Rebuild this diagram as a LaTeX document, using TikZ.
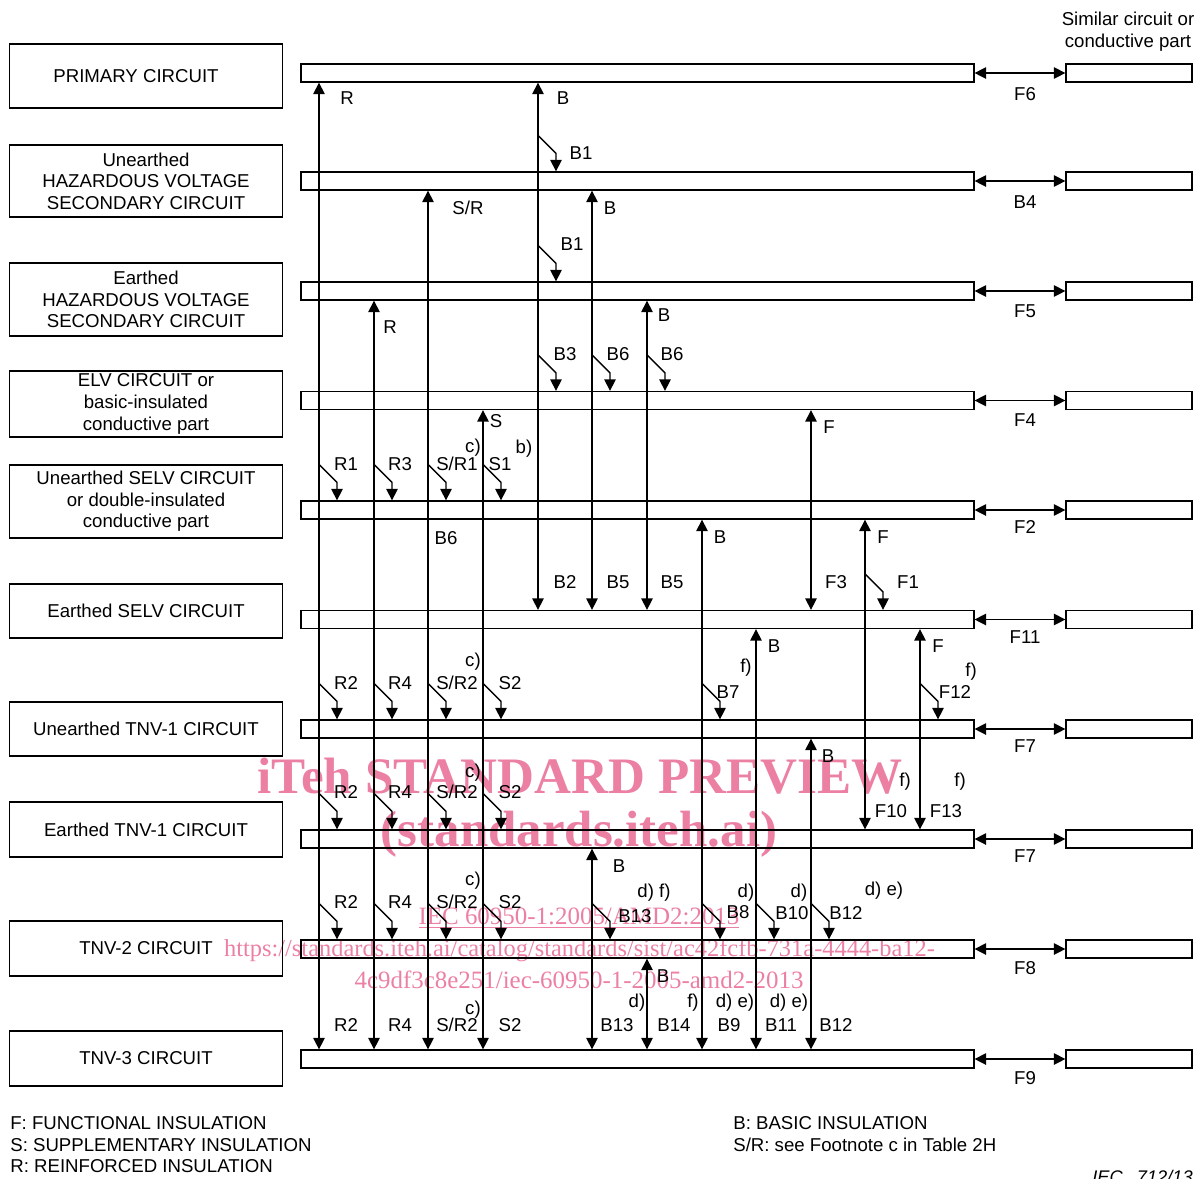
\documentclass[tikz,border=0pt]{standalone}
\usepackage{fontspec}
\setmainfont{Liberation Sans}
\newfontfamily\wmfont{Liberation Serif}
\usetikzlibrary{arrows.meta,calc}
\definecolor{wm}{RGB}{236,128,163}
\newcounter{labc}
\newcommand\lab[3]{\stepcounter{labc}\node[lbl] (lab\arabic{labc}) at (#2,#3+6.5) {#1};}
\newcommand\insTick[2]{\draw[arr] ($(#1.north -| #2)+(0,-36)$) -- ++(18,18) -- ++(0,18);}
\tikzset{
  myT/.tip={Triangle[width=6.5pt,length=6.5pt]},
  every node/.style={font=\fontsize{10.6}{12.3}\selectfont},
  box/.style={draw, line width=0.75pt, minimum width=5.46cm, align=center, inner sep=0pt},
  bar/.style={draw, line width=0.75pt, minimum width=13.46cm, minimum height=0.36cm, inner sep=0pt},
  rbar/.style={draw, line width=0.75pt, minimum width=2.52cm, minimum height=0.36cm, inner sep=0pt},
  arr/.style={line width=0.75pt, -myT},
  dbl/.style={line width=0.75pt, myT-myT},
  lbl/.style={anchor=base, inner sep=0pt},
  lblw/.style={anchor=base west, inner sep=0pt},
  wmtxt/.style={anchor=base, inner sep=0pt, text=wm},
}
\begin{document}
\begin{tikzpicture}[x=0.02cm, y=-0.02cm]
\useasboundingbox (0,0) rectangle (1200,1178);
% watermark
\node[wmtxt, font=\wmfont\bfseries\fontsize{29.1}{30}\selectfont] (wm1) at (580,793) {iTeh STANDARD PREVIEW};
\node[wmtxt, font=\wmfont\bfseries\fontsize{29}{30}\selectfont] (wm2) at (579,846) {(standards.iteh.ai)};
\node[wmtxt, font=\wmfont\fontsize{14.2}{16}\selectfont] (wm3) at (579,924.5) {\underline{IEC 60950-1:2005/AMD2:2013}};
\node[wmtxt, font=\wmfont\fontsize{13.9}{16}\selectfont] (wm4) at (579.5,956) {https://standards.iteh.ai/catalog/standards/sist/ac42fcfb-731a-4444-ba12-};
\node[wmtxt, font=\wmfont\fontsize{14.2}{16}\selectfont] (wm5) at (579,988) {4c9df3c8e251/iec-60950-1-2005-amd2-2013};

% left boxes
\node[box, minimum height=1.28cm] (k1) at (146,76) {PRIMARY CIRCUIT\hspace*{0.4cm}};
\node[box, minimum height=1.44cm] (k2) at (146,181) {Unearthed\\HAZARDOUS VOLTAGE\\SECONDARY CIRCUIT};
\node[box, minimum height=1.46cm] (k3) at (146,299.5) {Earthed\\HAZARDOUS VOLTAGE\\SECONDARY CIRCUIT};
\node[box, minimum height=1.32cm] (k4) at (146,404) {ELV CIRCUIT or\\basic-insulated\\conductive part};
\node[box, minimum height=1.46cm] (k5) at (146,501.5) {Unearthed SELV CIRCUIT\\or double-insulated\\conductive part};
\node[box, minimum height=1.08cm] (k6) at (146,611) {Earthed SELV CIRCUIT};
\node[box, minimum height=1.08cm] (k7) at (146,729) {Unearthed TNV-1 CIRCUIT};
\node[box, minimum height=1.1cm] (k8) at (146,829.5) {Earthed TNV-1 CIRCUIT};
\node[box, minimum height=1.1cm] (k9) at (146,948.5) {TNV-2 CIRCUIT};
\node[box, minimum height=1.1cm] (k10) at (146,1058.5) {TNV-3 CIRCUIT};

% bars
\foreach \i/\y in {1/73,2/181,3/291,4/400.5,5/510,6/619.5,7/729,8/839,9/949,10/1059}{
  \node[bar] (b\i) at (637.5,\y) {};
  \node[rbar] (r\i) at (1129,\y) {};
  \draw[dbl] (b\i.east) -- (r\i.west);
}

% column coordinates
\foreach \i/\x in {1/319,2/374,3/428,4/483,5/538,6/592,7/647,8/702,9/756,10/811,11/865,12/920}{
  \coordinate (c\i) at (\x,0);
}

% vertical connectors
\draw[dbl] (b1.south -| c1) -- (b10.north -| c1);
\draw[dbl] (b3.south -| c2) -- (b10.north -| c2);
\draw[dbl] (b2.south -| c3) -- (b10.north -| c3);
\draw[dbl] (b4.south -| c4) -- (b10.north -| c4);
\draw[dbl] (b1.south -| c5) -- (b6.north -| c5);
\draw[dbl] (b2.south -| c6) -- (b6.north -| c6);
\draw[dbl] (b8.south -| c6) -- (b10.north -| c6);
\draw[dbl] (b3.south -| c7) -- (b6.north -| c7);
\draw[dbl] (b9.south -| c7) -- (b10.north -| c7);
\draw[dbl] (b5.south -| c8) -- (b10.north -| c8);
\draw[dbl] (b6.south -| c9) -- (b10.north -| c9);
\draw[dbl] (b4.south -| c10) -- (b6.north -| c10);
\draw[dbl] (b7.south -| c10) -- (b10.north -| c10);
\draw[dbl] (b5.south -| c11) -- (b8.north -| c11);
\draw[dbl] (b6.south -| c12) -- (b8.north -| c12);

% bent ticks
\foreach \c in {c1,c2,c3,c4}{
  \foreach \b in {b5,b7,b8,b9}{ \insTick{\b}{\c} }
}
\insTick{b2}{c5} \insTick{b3}{c5} \insTick{b4}{c5}
\insTick{b4}{c6} \insTick{b9}{c6}
\insTick{b4}{c7}
\insTick{b7}{c8} \insTick{b9}{c8}
\insTick{b9}{c9}
\insTick{b9}{c10}
\insTick{b6}{c11}
\insTick{b7}{c12}

% labels
\lab{R}{347}{98}
\lab{B}{563}{98}
\lab{B1}{581}{153}
\lab{S/R}{468}{208}
\lab{B}{610}{208}
\lab{B1}{572}{244}
\lab{B}{664}{315}
\lab{R}{390}{327}
\lab{B3}{565}{354}
\lab{B6}{618}{354}
\lab{B6}{672}{354}
\lab{S}{496}{421}
\lab{F}{829}{427}
\lab{c)}{473}{446}
\lab{b)}{524}{447}
\lab{R1}{346}{464}
\lab{R3}{400}{464}
\lab{S/R1}{457}{464}
\lab{S1}{500}{464}
\lab{B6}{446}{538}
\lab{B}{720}{537}
\lab{F}{883}{537}
\lab{B2}{565}{582}
\lab{B5}{618}{582}
\lab{B5}{672}{582}
\lab{F3}{836}{582}
\lab{F1}{908}{582}
\lab{B}{774}{646}
\lab{F}{938}{646}
\lab{c)}{473}{660}
\lab{f)}{746}{666}
\lab{f)}{971}{670}
\lab{R2}{346}{683}
\lab{R4}{400}{683}
\lab{S/R2}{457}{683}
\lab{S2}{510}{683}
\lab{B7}{728}{692}
\lab{F12}{955}{692}
\lab{B}{828}{756}
\lab{c)}{473}{771}
\lab{f)}{905}{780}
\lab{f)}{960}{780}
\lab{R2}{346}{792}
\lab{R4}{400}{792}
\lab{S/R2}{457}{792}
\lab{S2}{510}{792}
\lab{F10}{891}{811}
\lab{F13}{946}{811}
\lab{B}{619}{866}
\lab{c)}{473}{879}
\lab{d) f)}{654}{891}
\lab{d)}{746}{891}
\lab{d)}{799}{891}
\lab{d) e)}{884}{889}
\lab{R2}{346}{902}
\lab{R4}{400}{902}
\lab{S/R2}{457}{902}
\lab{S2}{510}{902}
\lab{B13}{635}{916}
\lab{B8}{738}{912}
\lab{B10}{792}{913}
\lab{B12}{846}{913}
\lab{B}{663}{976}
\lab{d)}{637}{1001}
\lab{f)}{693}{1001}
\lab{d) e)}{735}{1001}
\lab{d) e)}{789}{1001}
\lab{c)}{473}{1008}
\lab{R2}{346}{1025}
\lab{R4}{400}{1025}
\lab{S/R2}{457}{1025}
\lab{S2}{510}{1025}
\lab{B13}{617}{1025}
\lab{B14}{674}{1025}
\lab{B9}{729}{1025}
\lab{B11}{781}{1025}
\lab{B12}{836}{1025}
% right labels
\lab{F6}{1025}{94}
\lab{B4}{1025}{202}
\lab{F5}{1025}{311}
\lab{F4}{1025}{420}
\lab{F2}{1025}{527}
\lab{F11}{1025}{637}
\lab{F7}{1025}{746}
\lab{F7}{1025}{856}
\lab{F8}{1025}{968}
\lab{F9}{1025}{1078}
% header
\lab{Similar circuit or}{1128}{19}
\lab{conductive part}{1128}{41}
% legend
\node[lblw] (legF) at (10,1129.5) {F: FUNCTIONAL INSULATION};
\node[lblw] (legS) at (10,1151.5) {S: SUPPLEMENTARY INSULATION};
\node[lblw] (legR) at (10,1172.5) {R: REINFORCED INSULATION};
\node[lblw] (legB) at (733,1129.5) {B: BASIC INSULATION};
\node[lblw] (legSR) at (733,1151.5) {S/R: see Footnote c in Table 2H};
\node[lblw, font=\itshape\fontsize{10.4}{12.3}\selectfont] (iec) at (1092,1183) {IEC\hspace{8pt}712/13};
\end{tikzpicture}
\end{document}
